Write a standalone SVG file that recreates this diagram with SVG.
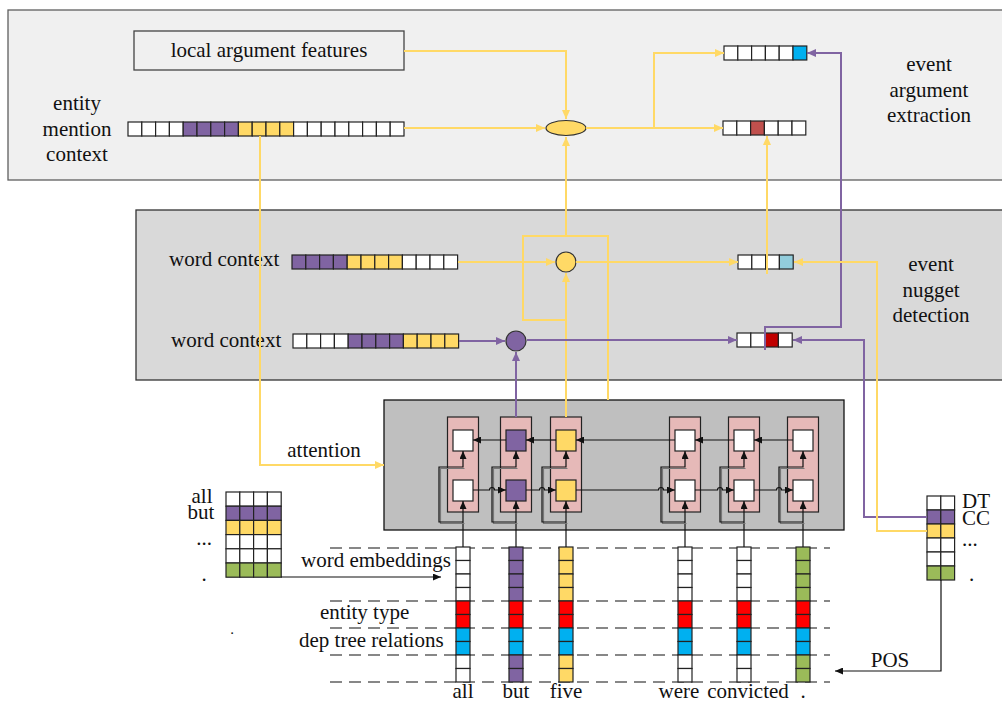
<svg xmlns="http://www.w3.org/2000/svg" width="1002" height="702" viewBox="0 0 1002 702">
  <style>
    text { font-family: "Liberation Serif", "Times New Roman", serif; font-size: 21px; fill: #111; }
    .mid { text-anchor: middle; }
    .cell { stroke: #222; stroke-width: 1.2; }
    .w { fill: #ffffff; }
    .p { fill: #8064a2; }
    .y { fill: #ffd966; }
    .g { fill: #9bbb59; }
    .r { fill: #ff0000; }
    .b { fill: #00b0f0; }
    .yl { fill: none; stroke: #ffd966; stroke-width: 2; }
    .pl { fill: none; stroke: #8064a2; stroke-width: 2; }
    .bl { fill: none; stroke: #111; stroke-width: 1.2; }
    .sh { fill: none; stroke: #777; stroke-width: 1.2; }
    .dash { stroke: #111; stroke-width: 1.2; stroke-dasharray: 12 7; }
    .col { fill: #e6b9b8; stroke: #222; stroke-width: 1.2; }
    .sq { stroke: #222; stroke-width: 1.2; }
  </style>
  <defs>
    <marker id="ay" viewBox="0 0 9 8" refX="9" refY="4" markerWidth="9" markerHeight="8" markerUnits="userSpaceOnUse" orient="auto">
      <path d="M0,0 L9,4 L0,8 z" fill="#ffd966"/>
    </marker>
    <marker id="ap" viewBox="0 0 9 8" refX="9" refY="4" markerWidth="9" markerHeight="8" markerUnits="userSpaceOnUse" orient="auto">
      <path d="M0,0 L9,4 L0,8 z" fill="#8064a2"/>
    </marker>
    <marker id="ab" viewBox="0 0 8 7" refX="8" refY="3.5" markerWidth="8" markerHeight="7" markerUnits="userSpaceOnUse" orient="auto">
      <path d="M0,0 L8,3.5 L0,7 z" fill="#111"/>
    </marker>
  </defs>

  <rect width="1002" height="702" fill="#ffffff"/>

  <!-- event argument extraction panel -->
  <g id="panel-argument">
    <rect x="8" y="10" width="1004" height="170" fill="#f0f0f0" stroke="#5f5f5f" stroke-width="1.3"/>
    <text class="mid" x="929" y="71">event</text>
    <text class="mid" x="929" y="97">argument</text>
    <text class="mid" x="929" y="122">extraction</text>
  </g>

  <!-- event nugget detection panel -->
  <g id="panel-nugget">
    <rect x="136" y="210" width="876" height="170" fill="#d9d9d9" stroke="#333" stroke-width="1.3"/>
    <text class="mid" x="931" y="271">event</text>
    <text class="mid" x="931" y="297">nugget</text>
    <text class="mid" x="931" y="322">detection</text>
  </g>

  <!-- dashed guides across the feature vectors -->
  <g id="guides">
    <line class="dash" x1="330" y1="548" x2="830" y2="548"/>
    <line class="dash" x1="330" y1="601" x2="830" y2="601"/>
    <line class="dash" x1="330" y1="628" x2="830" y2="628"/>
    <line class="dash" x1="330" y1="655" x2="830" y2="655"/>
    <line class="dash" x1="330" y1="682" x2="830" y2="682"/>
  </g>

  <g id="local-argument-features">
    <rect x="134" y="31" width="270" height="39" fill="#f0f0f0" stroke="#444" stroke-width="1.3"/>
    <text class="mid" x="269" y="57">local argument features</text>
  </g>

  <g id="entity-mention-context">
    <text class="mid" x="77" y="110">entity</text>
    <text class="mid" x="77" y="136">mention</text>
    <text class="mid" x="77" y="161">context</text>
    <g class="cell">
      <rect class="w" x="128" y="122" width="13.8" height="14"/>
      <rect class="w" x="141.8" y="122" width="13.8" height="14"/>
      <rect class="w" x="155.6" y="122" width="13.8" height="14"/>
      <rect class="w" x="169.4" y="122" width="13.8" height="14"/>
      <rect class="p" x="183.2" y="122" width="13.8" height="14"/>
      <rect class="p" x="197" y="122" width="13.8" height="14"/>
      <rect class="p" x="210.8" y="122" width="13.8" height="14"/>
      <rect class="p" x="224.6" y="122" width="13.8" height="14"/>
      <rect class="y" x="238.4" y="122" width="13.8" height="14"/>
      <rect class="y" x="252.2" y="122" width="13.8" height="14"/>
      <rect class="y" x="266" y="122" width="13.8" height="14"/>
      <rect class="y" x="279.8" y="122" width="13.8" height="14"/>
      <rect class="w" x="293.6" y="122" width="13.8" height="14"/>
      <rect class="w" x="307.4" y="122" width="13.8" height="14"/>
      <rect class="w" x="321.2" y="122" width="13.8" height="14"/>
      <rect class="w" x="335" y="122" width="13.8" height="14"/>
      <rect class="w" x="348.8" y="122" width="13.8" height="14"/>
      <rect class="w" x="362.6" y="122" width="13.8" height="14"/>
      <rect class="w" x="376.4" y="122" width="13.8" height="14"/>
      <rect class="w" x="390.2" y="122" width="13.8" height="14"/>
    </g>
  </g>

  <g id="argument-combiner">
    <ellipse cx="566" cy="128" rx="20" ry="7.5" fill="#ffd966" stroke="#333" stroke-width="1.2"/>
  </g>

  <g id="argument-role-output">
    <g class="cell">
      <rect class="w" x="724" y="46" width="13.8" height="14"/>
      <rect class="w" x="737.8" y="46" width="13.8" height="14"/>
      <rect class="w" x="751.6" y="46" width="13.8" height="14"/>
      <rect class="w" x="765.4" y="46" width="13.8" height="14"/>
      <rect class="w" x="779.2" y="46" width="13.8" height="14"/>
      <rect class="b" x="793" y="46" width="13.8" height="14"/>
    </g>
  </g>

  <g id="argument-output">
    <g class="cell">
      <rect class="w" x="723" y="121" width="13.8" height="14"/>
      <rect class="w" x="736.8" y="121" width="13.8" height="14"/>
      <rect fill="#c0504d" x="750.6" y="121" width="13.8" height="14"/>
      <rect class="w" x="764.4" y="121" width="13.8" height="14"/>
      <rect class="w" x="778.2" y="121" width="13.8" height="14"/>
      <rect class="w" x="792" y="121" width="13.8" height="14"/>
    </g>
  </g>

  <g id="word-context-1">
    <text x="169" y="266">word context</text>
    <g class="cell">
      <rect class="p" x="292" y="255" width="13.8" height="14"/>
      <rect class="p" x="305.8" y="255" width="13.8" height="14"/>
      <rect class="p" x="319.6" y="255" width="13.8" height="14"/>
      <rect class="p" x="333.4" y="255" width="13.8" height="14"/>
      <rect class="y" x="347.2" y="255" width="13.8" height="14"/>
      <rect class="y" x="361" y="255" width="13.8" height="14"/>
      <rect class="y" x="374.8" y="255" width="13.8" height="14"/>
      <rect class="y" x="388.6" y="255" width="13.8" height="14"/>
      <rect class="w" x="402.4" y="255" width="13.8" height="14"/>
      <rect class="w" x="416.2" y="255" width="13.8" height="14"/>
      <rect class="w" x="430" y="255" width="13.8" height="14"/>
      <rect class="w" x="443.8" y="255" width="13.8" height="14"/>
    </g>
  </g>

  <g id="word-context-2">
    <text x="171" y="347">word context</text>
    <g class="cell">
      <rect class="w" x="293" y="334" width="13.8" height="14"/>
      <rect class="w" x="306.8" y="334" width="13.8" height="14"/>
      <rect class="w" x="320.6" y="334" width="13.8" height="14"/>
      <rect class="w" x="334.4" y="334" width="13.8" height="14"/>
      <rect class="p" x="348.2" y="334" width="13.8" height="14"/>
      <rect class="p" x="362" y="334" width="13.8" height="14"/>
      <rect class="p" x="375.8" y="334" width="13.8" height="14"/>
      <rect class="p" x="389.6" y="334" width="13.8" height="14"/>
      <rect class="y" x="403.4" y="334" width="13.8" height="14"/>
      <rect class="y" x="417.2" y="334" width="13.8" height="14"/>
      <rect class="y" x="431" y="334" width="13.8" height="14"/>
      <rect class="y" x="444.8" y="334" width="13.8" height="14"/>
    </g>
  </g>

  <g id="trigger-combiner">
    <circle cx="566" cy="262" r="10" fill="#ffd966" stroke="#333" stroke-width="1.2"/>
  </g>

  <g id="argument-combiner-nugget">
    <circle cx="516" cy="341" r="10" fill="#8064a2" stroke="#333" stroke-width="1.2"/>
  </g>

  <g id="nugget-output-1">
    <g class="cell">
      <rect class="w" x="738" y="255" width="13.8" height="14"/>
      <rect class="w" x="751.8" y="255" width="13.8" height="14"/>
      <rect class="w" x="765.6" y="255" width="13.8" height="14"/>
      <rect fill="#92cddc" x="779.4" y="255" width="13.8" height="14"/>
    </g>
  </g>

  <g id="nugget-output-2">
    <g class="cell">
      <rect class="w" x="737" y="333" width="13.8" height="14"/>
      <rect class="w" x="750.8" y="333" width="13.8" height="14"/>
      <rect fill="#c00000" x="764.6" y="333" width="13.8" height="14"/>
      <rect class="w" x="778.4" y="333" width="13.8" height="14"/>
    </g>
  </g>

  <!-- bidirectional recurrent layer -->
  <g id="bilstm">
    <rect x="384" y="400" width="460" height="130" fill="#bfbfbf" stroke="#111" stroke-width="1.3"/>
    <rect class="col" x="447.5" y="417" width="31" height="95"/>
    <rect class="col" x="500.5" y="417" width="31" height="95"/>
    <rect class="col" x="550.5" y="417" width="31" height="95"/>
    <rect class="col" x="669.5" y="417" width="31" height="95"/>
    <rect class="col" x="728.5" y="417" width="31" height="95"/>
    <rect class="col" x="787.5" y="417" width="31" height="95"/>
    <rect class="sq w" x="453" y="430" width="20" height="21"/>
    <rect class="sq p" x="506" y="430" width="20" height="21"/>
    <rect class="sq y" x="556" y="430" width="20" height="21"/>
    <rect class="sq w" x="675" y="430" width="20" height="21"/>
    <rect class="sq w" x="734" y="430" width="20" height="21"/>
    <rect class="sq w" x="793" y="430" width="20" height="21"/>
    <rect class="sq w" x="453" y="480" width="20" height="21"/>
    <rect class="sq p" x="506" y="480" width="20" height="21"/>
    <rect class="sq y" x="556" y="480" width="20" height="21"/>
    <rect class="sq w" x="675" y="480" width="20" height="21"/>
    <rect class="sq w" x="734" y="480" width="20" height="21"/>
    <rect class="sq w" x="793" y="480" width="20" height="21"/>
  </g>

  <g id="embedding-table">
    <text class="mid" x="202" y="503">all</text>
    <text class="mid" x="201" y="519">but</text>
    <text class="mid" x="204" y="545">...</text>
    <text class="mid" x="204" y="581">.</text>
    <text class="mid" x="232" y="634" style="font-size:15px">.</text>
    <g class="cell">
      <rect class="w" x="226" y="492" width="13.8" height="14.2"/>
      <rect class="w" x="239.8" y="492" width="13.8" height="14.2"/>
      <rect class="w" x="253.6" y="492" width="13.8" height="14.2"/>
      <rect class="w" x="267.4" y="492" width="13.8" height="14.2"/>
      <rect class="p" x="226" y="506.2" width="13.8" height="14.2"/>
      <rect class="p" x="239.8" y="506.2" width="13.8" height="14.2"/>
      <rect class="p" x="253.6" y="506.2" width="13.8" height="14.2"/>
      <rect class="p" x="267.4" y="506.2" width="13.8" height="14.2"/>
      <rect class="y" x="226" y="520.4" width="13.8" height="14.2"/>
      <rect class="y" x="239.8" y="520.4" width="13.8" height="14.2"/>
      <rect class="y" x="253.6" y="520.4" width="13.8" height="14.2"/>
      <rect class="y" x="267.4" y="520.4" width="13.8" height="14.2"/>
      <rect class="w" x="226" y="534.6" width="13.8" height="14.2"/>
      <rect class="w" x="239.8" y="534.6" width="13.8" height="14.2"/>
      <rect class="w" x="253.6" y="534.6" width="13.8" height="14.2"/>
      <rect class="w" x="267.4" y="534.6" width="13.8" height="14.2"/>
      <rect class="w" x="226" y="548.8" width="13.8" height="14.2"/>
      <rect class="w" x="239.8" y="548.8" width="13.8" height="14.2"/>
      <rect class="w" x="253.6" y="548.8" width="13.8" height="14.2"/>
      <rect class="w" x="267.4" y="548.8" width="13.8" height="14.2"/>
      <rect class="g" x="226" y="563" width="13.8" height="14.2"/>
      <rect class="g" x="239.8" y="563" width="13.8" height="14.2"/>
      <rect class="g" x="253.6" y="563" width="13.8" height="14.2"/>
      <rect class="g" x="267.4" y="563" width="13.8" height="14.2"/>
    </g>
  </g>

  <g id="feature-labels">
    <text x="301" y="567">word embeddings</text>
    <text x="320" y="619">entity type</text>
    <text x="299" y="647">dep tree relations</text>
  </g>

  <g id="pos-table">
    <text x="962" y="508">DT</text>
    <text x="962" y="525">CC</text>
    <text x="962" y="546">...</text>
    <text x="969" y="581">.</text>
    <g class="cell">
      <rect class="w" x="927" y="496" width="13.8" height="14"/>
      <rect class="w" x="940.8" y="496" width="13.8" height="14"/>
      <rect class="p" x="927" y="510" width="13.8" height="14"/>
      <rect class="p" x="940.8" y="510" width="13.8" height="14"/>
      <rect class="y" x="927" y="524" width="13.8" height="14"/>
      <rect class="y" x="940.8" y="524" width="13.8" height="14"/>
      <rect class="w" x="927" y="538" width="13.8" height="14"/>
      <rect class="w" x="940.8" y="538" width="13.8" height="14"/>
      <rect class="w" x="927" y="552" width="13.8" height="14"/>
      <rect class="w" x="940.8" y="552" width="13.8" height="14"/>
      <rect class="g" x="927" y="566" width="13.8" height="14"/>
      <rect class="g" x="940.8" y="566" width="13.8" height="14"/>
    </g>
  </g>

  <!-- token feature vectors: 4 embedding, 2 entity type, 2 dependency, 2 POS cells -->
  <g id="token-all">
    <g class="cell">
      <rect class="w" x="456" y="547" width="14" height="13.5"/>
      <rect class="w" x="456" y="560.5" width="14" height="13.5"/>
      <rect class="w" x="456" y="574" width="14" height="13.5"/>
      <rect class="w" x="456" y="587.5" width="14" height="13.5"/>
      <rect class="r" x="456" y="601" width="14" height="13.5"/>
      <rect class="r" x="456" y="614.5" width="14" height="13.5"/>
      <rect class="b" x="456" y="628" width="14" height="13.5"/>
      <rect class="b" x="456" y="641.5" width="14" height="13.5"/>
      <rect class="w" x="456" y="655" width="14" height="13.5"/>
      <rect class="w" x="456" y="668.5" width="14" height="13.5"/>
    </g>
    <text class="mid" x="463" y="698">all</text>
  </g>

  <g id="token-but">
    <g class="cell">
      <rect class="p" x="509" y="547" width="14" height="13.5"/>
      <rect class="p" x="509" y="560.5" width="14" height="13.5"/>
      <rect class="p" x="509" y="574" width="14" height="13.5"/>
      <rect class="p" x="509" y="587.5" width="14" height="13.5"/>
      <rect class="r" x="509" y="601" width="14" height="13.5"/>
      <rect class="r" x="509" y="614.5" width="14" height="13.5"/>
      <rect class="b" x="509" y="628" width="14" height="13.5"/>
      <rect class="b" x="509" y="641.5" width="14" height="13.5"/>
      <rect class="p" x="509" y="655" width="14" height="13.5"/>
      <rect class="p" x="509" y="668.5" width="14" height="13.5"/>
    </g>
    <text class="mid" x="516" y="698">but</text>
  </g>

  <g id="token-five">
    <g class="cell">
      <rect class="y" x="559" y="547" width="14" height="13.5"/>
      <rect class="y" x="559" y="560.5" width="14" height="13.5"/>
      <rect class="y" x="559" y="574" width="14" height="13.5"/>
      <rect class="y" x="559" y="587.5" width="14" height="13.5"/>
      <rect class="r" x="559" y="601" width="14" height="13.5"/>
      <rect class="r" x="559" y="614.5" width="14" height="13.5"/>
      <rect class="b" x="559" y="628" width="14" height="13.5"/>
      <rect class="b" x="559" y="641.5" width="14" height="13.5"/>
      <rect class="y" x="559" y="655" width="14" height="13.5"/>
      <rect class="y" x="559" y="668.5" width="14" height="13.5"/>
    </g>
    <text class="mid" x="566" y="698">five</text>
  </g>

  <g id="token-were">
    <g class="cell">
      <rect class="w" x="678" y="547" width="14" height="13.5"/>
      <rect class="w" x="678" y="560.5" width="14" height="13.5"/>
      <rect class="w" x="678" y="574" width="14" height="13.5"/>
      <rect class="w" x="678" y="587.5" width="14" height="13.5"/>
      <rect class="r" x="678" y="601" width="14" height="13.5"/>
      <rect class="r" x="678" y="614.5" width="14" height="13.5"/>
      <rect class="b" x="678" y="628" width="14" height="13.5"/>
      <rect class="b" x="678" y="641.5" width="14" height="13.5"/>
      <rect class="w" x="678" y="655" width="14" height="13.5"/>
      <rect class="w" x="678" y="668.5" width="14" height="13.5"/>
    </g>
    <text class="mid" x="679" y="698">were</text>
  </g>

  <g id="token-convicted">
    <g class="cell">
      <rect class="w" x="737" y="547" width="14" height="13.5"/>
      <rect class="w" x="737" y="560.5" width="14" height="13.5"/>
      <rect class="w" x="737" y="574" width="14" height="13.5"/>
      <rect class="w" x="737" y="587.5" width="14" height="13.5"/>
      <rect class="r" x="737" y="601" width="14" height="13.5"/>
      <rect class="r" x="737" y="614.5" width="14" height="13.5"/>
      <rect class="b" x="737" y="628" width="14" height="13.5"/>
      <rect class="b" x="737" y="641.5" width="14" height="13.5"/>
      <rect class="w" x="737" y="655" width="14" height="13.5"/>
      <rect class="w" x="737" y="668.5" width="14" height="13.5"/>
    </g>
    <text class="mid" x="748" y="698">convicted</text>
  </g>

  <g id="token-period">
    <g class="cell">
      <rect class="g" x="796" y="547" width="14" height="13.5"/>
      <rect class="g" x="796" y="560.5" width="14" height="13.5"/>
      <rect class="g" x="796" y="574" width="14" height="13.5"/>
      <rect class="g" x="796" y="587.5" width="14" height="13.5"/>
      <rect class="r" x="796" y="601" width="14" height="13.5"/>
      <rect class="r" x="796" y="614.5" width="14" height="13.5"/>
      <rect class="b" x="796" y="628" width="14" height="13.5"/>
      <rect class="b" x="796" y="641.5" width="14" height="13.5"/>
      <rect class="g" x="796" y="655" width="14" height="13.5"/>
      <rect class="g" x="796" y="668.5" width="14" height="13.5"/>
    </g>
    <text class="mid" x="803" y="698">.</text>
  </g>

  <g id="connectors">
    <!-- argument extraction -->
    <path class="yl" d="M404,51 H566 V119" marker-end="url(#ay)"/>
    <path class="yl" d="M404,128 H545" marker-end="url(#ay)"/>
    <path class="yl" d="M586,128 H723" marker-end="url(#ay)"/>
    <path class="yl" d="M654,128 V53 H724" marker-end="url(#ay)"/>
    <path class="yl" d="M767,274 V136" marker-end="url(#ay)"/>
    <path class="pl" d="M765,350 V327 H841 V53 H807" marker-end="url(#ap)"/>

    <!-- nugget detection -->
    <path class="yl" d="M458,262 H555" marker-end="url(#ay)"/>
    <path class="yl" d="M576,262 H738" marker-end="url(#ay)"/>
    <path class="yl" d="M608,400 V236 H523 V320 H566"/>
    <path class="yl" d="M566,236 V137" marker-end="url(#ay)"/>
    <path class="yl" d="M566,417 V273" marker-end="url(#ay)"/>
    <path class="pl" d="M459,341 H505" marker-end="url(#ap)"/>
    <path class="pl" d="M527,340 H737" marker-end="url(#ap)"/>
    <path class="pl" d="M516,417 V352" marker-end="url(#ap)"/>
    <path class="pl" d="M927,517 H864 V340 H793" marker-end="url(#ap)"/>
    <path class="yl" d="M927,531 H877 V262 H794" marker-end="url(#ay)"/>

    <!-- attention over the entity mention -->
    <path class="yl" d="M260,136 V465 H384" marker-end="url(#ay)"/>
    <text class="mid" x="324" y="457">attention</text>

    <!-- embeddings and POS lookup -->
    <path class="bl" d="M281,577 H441" marker-end="url(#ab)"/>
    <path class="bl" d="M941,580 V671 H835" marker-end="url(#ab)"/>
    <text class="mid" x="890" y="667">POS</text>

    <!-- token inputs into the forward cells -->
    <path class="bl" d="M463,547 V501" marker-end="url(#ab)"/>
    <path class="bl" d="M516,547 V501" marker-end="url(#ab)"/>
    <path class="bl" d="M566,547 V501" marker-end="url(#ab)"/>
    <path class="bl" d="M685,547 V501" marker-end="url(#ab)"/>
    <path class="bl" d="M744,547 V501" marker-end="url(#ab)"/>
    <path class="bl" d="M803,547 V501" marker-end="url(#ab)"/>

    <!-- token bypass into the backward cells -->
    <g transform="translate(1.5,1.5)">
      <path class="sh" d="M463,522 H439 V467 H463"/>
      <path class="sh" d="M516,522 H492 V467 H516"/>
      <path class="sh" d="M566,522 H542 V467 H566"/>
      <path class="sh" d="M685,522 H661 V467 H685"/>
      <path class="sh" d="M744,522 H720 V467 H744"/>
      <path class="sh" d="M803,522 H779 V467 H803"/>
    </g>
    <path class="bl" d="M463,522 H439 V467 H463 V451" marker-end="url(#ab)"/>
    <path class="bl" d="M516,522 H492 V467 H516 V451" marker-end="url(#ab)"/>
    <path class="bl" d="M566,522 H542 V467 H566 V451" marker-end="url(#ab)"/>
    <path class="bl" d="M685,522 H661 V467 H685 V451" marker-end="url(#ab)"/>
    <path class="bl" d="M744,522 H720 V467 H744 V451" marker-end="url(#ab)"/>
    <path class="bl" d="M803,522 H779 V467 H803 V451" marker-end="url(#ab)"/>

    <!-- forward recurrence (hops over the bypass lines) -->
    <path class="bl" d="M473,490 H489.5 a2.5,2.5 0 0 1 5,0 H506" marker-end="url(#ab)"/>
    <path class="bl" d="M526,490 H539.5 a2.5,2.5 0 0 1 5,0 H556" marker-end="url(#ab)"/>
    <path class="bl" d="M576,490 H658.5 a2.5,2.5 0 0 1 5,0 H675" marker-end="url(#ab)"/>
    <path class="bl" d="M695,490 H717.5 a2.5,2.5 0 0 1 5,0 H734" marker-end="url(#ab)"/>
    <path class="bl" d="M754,490 H776.5 a2.5,2.5 0 0 1 5,0 H793" marker-end="url(#ab)"/>

    <!-- backward recurrence -->
    <path class="bl" d="M793,440 H754" marker-end="url(#ab)"/>
    <path class="bl" d="M734,440 H695" marker-end="url(#ab)"/>
    <path class="bl" d="M675,440 H576" marker-end="url(#ab)"/>
    <path class="bl" d="M556,440 H526" marker-end="url(#ab)"/>
    <path class="bl" d="M506,440 H473" marker-end="url(#ab)"/>
  </g>
</svg>
